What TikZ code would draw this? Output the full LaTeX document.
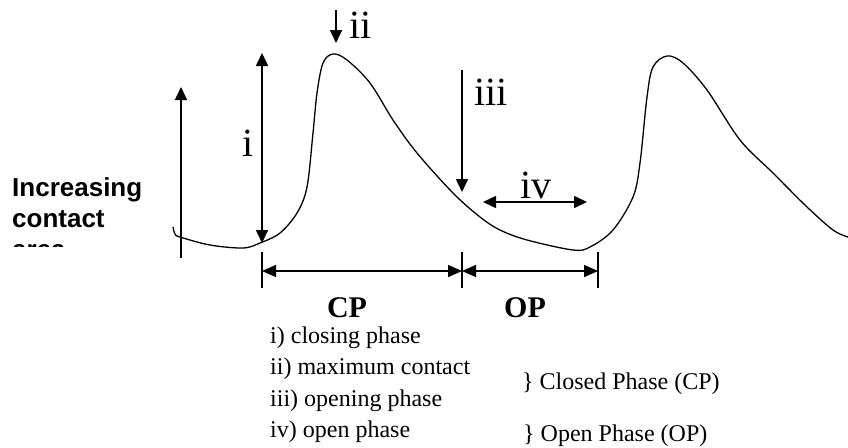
\documentclass[tikz,border=0pt]{standalone}
\usepackage{fontspec}
\setmainfont{Liberation Serif}
\newfontfamily\labsans{Liberation Sans}
\usetikzlibrary{arrows.meta}
\tikzset{
  x=1pt, y=-1pt,
  arr/.style={line width=1.6pt, -{Triangle[length=13pt,width=12pt]}},
  dbl/.style={line width=1.6pt, {Triangle[length=13pt,width=12pt]}-{Triangle[length=13pt,width=12pt]}},
  dimarr/.style={line width=1.4pt, {Triangle[length=14pt,width=12pt]}-{Triangle[length=14pt,width=12pt]}},
  tick/.style={line width=1.4pt},
  wave/.style={line width=1.3pt, line join=round},
  numlab/.style={inner sep=0pt, font=\fontsize{40}{44}\selectfont},
  bold/.style={inner sep=0pt, font=\fontsize{30}{34}\selectfont\bfseries},
  listtxt/.style={inner sep=0pt, anchor=west, text height=17pt, text depth=5pt, font=\fontsize{24}{30}\selectfont},
}
\begin{document}
\begin{tikzpicture}
\useasboundingbox (0,0) rectangle (848,447);
% clipped side label
\begin{scope}
  \clip (0,0) rectangle (175,246);
  \node[anchor=north west, inner sep=0pt, align=left, font=\fontsize{26}{31}\selectfont\labsans\bfseries] (inc) at (12,177) {Increasing\\contact\\area};
\end{scope}
% waveform
\draw[wave] plot[smooth, tension=0.55] coordinates {
 (173,227) (175,234) (180,237) (210,245) (243,248) (260,243) (280,233) (297,213) (307,187)
 (313,133) (317,93) (323,63) (333,54) (347,60) (370,83) (393,120) (417,153) (453,193)
 (480,217) (500,230) (527,240) (573,250) (590,247) (613,230) (633,197) (640,163)
 (647,97) (653,67) (667,56) (683,63) (707,90) (740,140) (773,173) (807,207) (833,230) (848,237)};
% coordinates
\coordinate (ab) at (181,258); \coordinate (at) at (181,87);
\coordinate (it) at (262,53); \coordinate (ib) at (262,243);
\coordinate (iit) at (336,10); \coordinate (iib) at (336,43);
\coordinate (iiit) at (462,70); \coordinate (iiib) at (462,192);
\coordinate (ivl) at (483,202); \coordinate (ivr) at (587,202);
\coordinate (t1a) at (262,252); \coordinate (t1b) at (262,288);
\coordinate (t2a) at (462,252); \coordinate (t2b) at (462,288);
\coordinate (t3a) at (598,252); \coordinate (t3b) at (598,288);
\coordinate (d1) at (262,271); \coordinate (d2) at (462,271); \coordinate (d3) at (598,271);
% arrows
\draw[arr] (ab) -- (at);
\draw[dbl] (ib) -- (it);
\draw[arr] (iit) -- (iib);
\draw[arr] (iiit) -- (iiib);
\draw[dbl] (ivl) -- (ivr);
\draw[tick] (t1a) -- (t1b);
\draw[tick] (t2a) -- (t2b);
\draw[tick] (t3a) -- (t3b);
\draw[dimarr] (d1) -- (d2);
\draw[dimarr] (d2) -- (d3);
% labels
\node[numlab] (li) at (248,143) {i};
\node[numlab, anchor=west] (lii) at (349,25) {ii};
\node[numlab] (liii) at (491,92) {iii};
\node[numlab] (liv) at (536,185) {iv};
\node[bold] (cp) at (347,308) {CP};
\node[bold] (op) at (525,308) {OP};
\node[listtxt] (l1) at (270,337) {i) closing phase};
\node[listtxt] (l2) at (270,368) {ii) maximum contact};
\node[listtxt] (l3) at (270,400) {iii) opening phase};
\node[listtxt] (l4) at (270,431) {iv) open phase};
\node[listtxt] (cl) at (522,383) {\} Closed Phase (CP)};
\node[listtxt] (opn) at (523,435) {\} Open Phase (OP)};
\end{tikzpicture}
\end{document}
